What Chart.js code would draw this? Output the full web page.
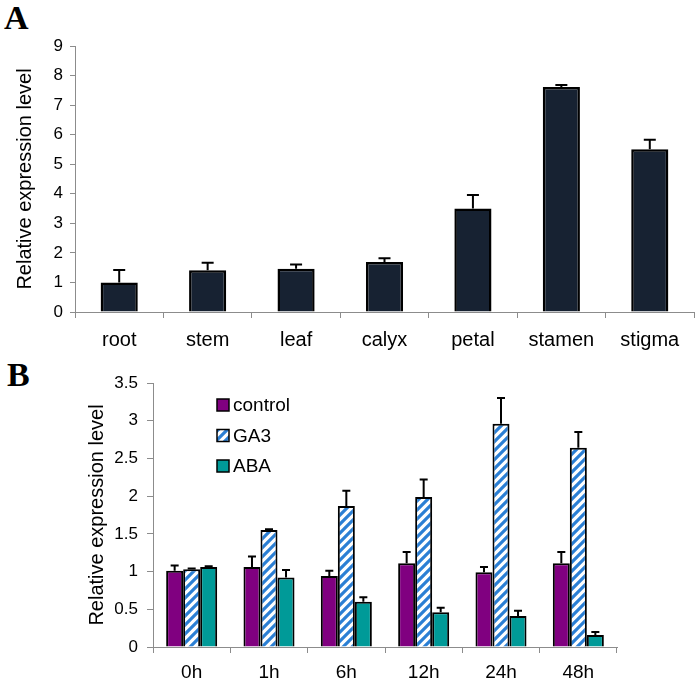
<!DOCTYPE html>
<html lang="en">
<head>
<meta charset="UTF-8">
<title>Relative expression level</title>
<script src="https://cdn.jsdelivr.net/npm/chart.js"></script>
<style>
    body {
        margin: 0;
        background: #fff;
        width: 698px;
        height: 681px;
        position: relative;
        overflow: hidden;
        font-family: 'Liberation Sans', Arial, sans-serif;
    }
    .panel-letter {
        position: absolute;
        font-family: 'Liberation Serif', 'Times New Roman', serif;
        font-weight: bold;
        font-size: 34px;
        line-height: 34px;
        color: #000;
    }
    #chartA { position: absolute; left: 0; top: 0; }
    #chartB { position: absolute; left: 0; top: 360px; }
</style>
</head>
<body>
<div class="panel-letter" style="left:4px; top:1px;">A</div>
<div class="panel-letter" style="left:7px; top:358px;">B</div>
<canvas id="chartA" width="698" height="360"></canvas>
<canvas id="chartB" width="698" height="321"></canvas>

<script>
    // Panel A - tissues
    const tissues = ['root', 'stem', 'leaf', 'calyx', 'petal', 'stamen', 'stigma'];
    const tissueMean = [1.00, 1.41, 1.46, 1.69, 3.50, 7.61, 5.51];
    const tissueErr = [0.42, 0.26, 0.15, 0.13, 0.46, 0.07, 0.32];

    // Panel B - hormone treatments
    const times = ['0h', '1h', '6h', '12h', '24h', '48h'];
    const treatments = ['control', 'GA3', 'ABA'];
    const controlMean = [1.01, 1.06, 0.94, 1.11, 0.99, 1.11];
    const controlErr = [0.07, 0.14, 0.07, 0.15, 0.07, 0.15];
    const ga3Mean = [1.03, 1.55, 1.87, 1.99, 2.96, 2.64];
    const ga3Err = [0.01, 0.01, 0.20, 0.23, 0.34, 0.21];
    const abaMean = [1.06, 0.92, 0.60, 0.46, 0.41, 0.16];
    const abaErr = [0.01, 0.10, 0.06, 0.06, 0.07, 0.04];

    const axisGrey = '#8c8c8c';
    const fontFamily = "'Liberation Sans', Arial, sans-serif";

    // white tile with blue "/" stripes for GA3
    function stripePattern() {
        const c = document.createElement('canvas');
        c.width = 9;
        c.height = 9;
        const g = c.getContext('2d');
        g.fillStyle = '#fff';
        g.fillRect(0, 0, 9, 9);
        g.strokeStyle = '#2b7fd4';
        g.lineWidth = 3.2;
        g.beginPath();
        g.moveTo(-2, 11); g.lineTo(11, -2);
        g.moveTo(-2, 2); g.lineTo(2, -2);
        g.moveTo(7, 11); g.lineTo(11, 7);
        g.stroke();
        return g.createPattern(c, 'repeat');
    }

    // draws upper error whiskers from dataset.errors
    const errorBars = {
        id: 'errorBars',
        afterDatasetsDraw(chart, args, opts) {
            const ctx = chart.ctx;
            const yScale = chart.scales.y;
            ctx.save();
            ctx.strokeStyle = '#000';
            ctx.lineWidth = opts.lineWidth || 2;
            chart.data.datasets.forEach((ds, i) => {
                const meta = chart.getDatasetMeta(i);
                meta.data.forEach((bar, j) => {
                    const top = yScale.getPixelForValue(ds.data[j] + ds.errors[j]);
                    ctx.beginPath();
                    ctx.moveTo(bar.x, bar.y);
                    ctx.lineTo(bar.x, top);
                    ctx.moveTo(bar.x - opts.cap, top);
                    ctx.lineTo(bar.x + opts.cap, top);
                    ctx.stroke();
                });
            });
            ctx.restore();
        }
    };

    // vertical legend inside the plot of panel B
    const boxLegend = {
        id: 'boxLegend',
        afterDraw(chart, args, opts) {
            const ctx = chart.ctx;
            ctx.save();
            ctx.font = '19px ' + fontFamily;
            ctx.textBaseline = 'middle';
            chart.data.datasets.forEach((ds, i) => {
                const y = opts.y + i * opts.gap;
                ctx.fillStyle = ds.backgroundColor;
                ctx.fillRect(opts.x, y - 6, 12, 12);
                ctx.strokeStyle = '#000';
                ctx.lineWidth = 1.5;
                ctx.strokeRect(opts.x, y - 6, 12, 12);
                ctx.fillStyle = '#000';
                ctx.fillText(ds.label, opts.x + 16, y + 1);
            });
            ctx.restore();
        }
    };

    function axes(o) {
        return {
            x: {
                afterFit: s => { s.height = o.xHeight; },
                grid: { display: true, drawOnChartArea: false, tickLength: 6, color: axisGrey, offset: true },
                border: { color: axisGrey },
                ticks: { color: '#000', font: { family: fontFamily, size: o.xFont }, padding: o.xPad }
            },
            y: {
                min: 0,
                max: o.max,
                afterFit: s => { s.width = o.yWidth; },
                grid: { display: true, drawOnChartArea: false, tickLength: o.yTick, color: axisGrey },
                border: { color: axisGrey },
                ticks: {
                    stepSize: o.step,
                    color: '#000',
                    padding: o.yPad,
                    font: { family: fontFamily, size: 17 },
                    callback: v => String(v)
                },
                title: {
                    display: true,
                    text: 'Relative expression level',
                    color: '#000',
                    font: { family: fontFamily, size: 20 },
                    padding: { top: o.titlePad, bottom: 0 }
                }
            }
        };
    }

    new Chart(document.getElementById('chartA').getContext('2d'), {
        type: 'bar',
        data: {
            labels: tissues,
            datasets: [{
                label: 'expression',
                data: tissueMean,
                errors: tissueErr,
                backgroundColor: '#172232',
                borderColor: '#000',
                borderWidth: 2.5,
                categoryPercentage: 1,
                barPercentage: 0.42
            }]
        },
        options: {
            responsive: false,
            animation: false,
            layout: { padding: { top: 46, right: 4, left: 0, bottom: 0 } },
            plugins: {
                legend: { display: false },
                tooltip: { enabled: false },
                errorBars: { cap: 6, lineWidth: 2 }
            },
            scales: axes({ max: 9, step: 1, xHeight: 48, yWidth: 75, xFont: 20, xPad: 10, yTick: 5, yPad: 7, titlePad: 13 })
        },
        plugins: [errorBars]
    });

    const ga3Fill = stripePattern();

    new Chart(document.getElementById('chartB').getContext('2d'), {
        type: 'bar',
        data: {
            labels: times,
            datasets: [
                { label: treatments[0], data: controlMean, errors: controlErr, backgroundColor: '#800080' },
                { label: treatments[1], data: ga3Mean, errors: ga3Err, backgroundColor: ga3Fill },
                { label: treatments[2], data: abaMean, errors: abaErr, backgroundColor: '#009a98' }
            ]
        },
        options: {
            responsive: false,
            animation: false,
            datasets: {
                bar: { borderColor: '#000', borderWidth: 2, categoryPercentage: 0.66, barPercentage: 1 }
            },
            layout: { padding: { top: 23, right: 81, left: 0, bottom: 0 } },
            plugins: {
                legend: { display: false },
                tooltip: { enabled: false },
                errorBars: { cap: 4, lineWidth: 2 },
                boxLegend: { x: 217, y: 45, gap: 30.5 }
            },
            scales: axes({ max: 3.5, step: 0.5, xHeight: 34, yWidth: 153, xFont: 19, xPad: 8, yTick: 6, yPad: 9, titlePad: 85 })
        },
        plugins: [errorBars, boxLegend]
    });
</script>
</body>
</html>
